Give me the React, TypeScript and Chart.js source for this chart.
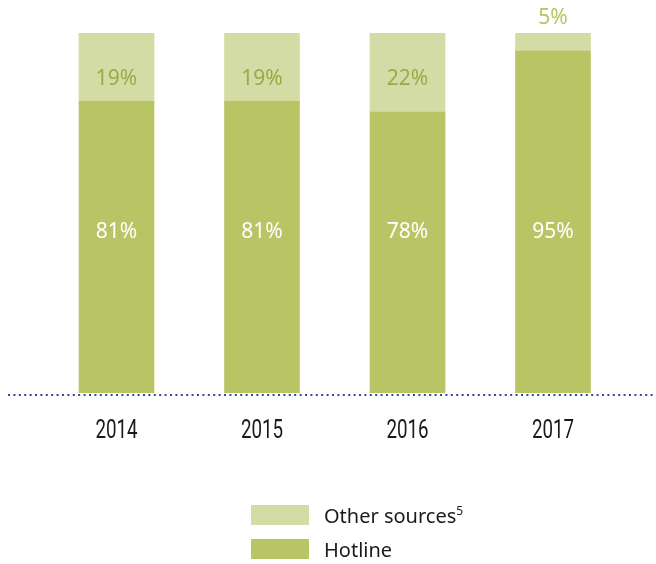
import React, { useEffect, useRef } from "react";
import { Chart, registerables } from "chart.js";

Chart.register(...registerables);

const categories = ["2014", "2015", "2016", "2017"];
const hotline = [81, 81, 78, 95];
const otherSources = [19, 19, 22, 5];
const seriesNames = ["Other sources", "Hotline"];

const DARK = "#b9c565";
const LIGHT = "#d4dca6";
const LABEL_DARK = "#9aab45";
const LABEL_LIGHT = "#b5c561";
const AXIS_DOT = "#36469a";

const labelPlugin = {
  id: "valueLabels",
  afterDatasetsDraw(chart: any) {
    const ctx = chart.ctx;
    const y = chart.scales.y;
    ctx.save();
    ctx.font = '21px "Noto Sans", "Open Sans", sans-serif';
    ctx.textAlign = "center";
    ctx.textBaseline = "middle";
    chart.data.datasets.forEach((ds: any, di: number) => {
      const meta = chart.getDatasetMeta(di);
      meta.data.forEach((bar: any, i: number) => {
        const v = ds.data[i];
        let py;
        if (ds.label === "Hotline") {
          ctx.fillStyle = "#ffffff";
          py = y.getPixelForValue(44.7);
        } else if (v < 10) {
          ctx.fillStyle = LABEL_LIGHT;
          py = bar.y - 15;
        } else {
          ctx.fillStyle = LABEL_DARK;
          py = y.getPixelForValue(87.2);
        }
        ctx.fillText(v + "%", bar.x, py);
      });
    });
    ctx.restore();
  },
  afterDraw(chart: any) {
    const ctx = chart.ctx;
    const yb = chart.chartArea.bottom + 2;
    ctx.save();
    ctx.strokeStyle = AXIS_DOT;
    ctx.lineWidth = 2;
    ctx.setLineDash([2, 3.4]);
    ctx.beginPath();
    ctx.moveTo(8, yb);
    ctx.lineTo(chart.width, yb);
    ctx.stroke();
    ctx.restore();

    // condensed category labels
    const xs = chart.scales.x;
    ctx.save();
    ctx.font = '400 25px Roboto, "DejaVu Sans", sans-serif';
    ctx.fillStyle = "#1a1a1a";
    ctx.textAlign = "center";
    ctx.textBaseline = "alphabetic";
    const labels = chart.data.labels as string[];
    labels.forEach((lab: string, i: number) => {
      const px = xs.getPixelForTick(i);
      ctx.save();
      ctx.translate(px, chart.chartArea.bottom + 45);
      ctx.scale(0.75, 1);
      ctx.fillText(lab, 0, 0);
      ctx.restore();
    });
    ctx.restore();
  },
};

export default function App() {
  const ref = useRef<HTMLCanvasElement | null>(null);
  useEffect(() => {
    document.body.style.margin = "0";
    if (!ref.current) return;
    const chart = new Chart(ref.current, {
      type: "bar",
      data: {
        labels: categories,
        datasets: [
          {
            label: seriesNames[1],
            data: hotline,
            backgroundColor: DARK,
            barThickness: 75,
            stack: "s",
          },
          {
            label: seriesNames[0],
            data: otherSources,
            backgroundColor: LIGHT,
            barThickness: 75,
            stack: "s",
          },
        ],
      },
      options: {
        animation: false,
        responsive: true,
        maintainAspectRatio: false,
        layout: { padding: { top: 33, left: 43.75, right: 30.25, bottom: 0 } },
        plugins: { legend: { display: false }, tooltip: { enabled: false } },
        scales: {
          x: {
            stacked: true,
            grid: { display: false, drawTicks: false },
            border: { display: false },
            ticks: { display: false },
            afterFit(scale: any) {
              scale.height = 171;
            },
          },
          y: {
            stacked: true,
            display: false,
            min: 0,
            max: 100,
          },
        },
      },
      plugins: [labelPlugin],
    });
    return () => chart.destroy();
  }, []);

  const legendItems = [
    { name: seriesNames[0], sup: "5", color: LIGHT, top: 505 },
    { name: seriesNames[1], sup: "", color: DARK, top: 539 },
  ];

  return (
    <div style={{ position: "relative", width: 656, height: 564, overflow: "hidden" }}>
      <canvas ref={ref} />
      {legendItems.map((it) => (
        <div
          key={it.name}
          style={{
            position: "absolute",
            left: 251,
            top: it.top,
            height: 20,
            display: "flex",
            alignItems: "center",
            fontFamily: '"Noto Sans", sans-serif',
            fontSize: 20,
            color: "#1a1a1a",
            whiteSpace: "nowrap",
          }}
        >
          <span style={{ display: "inline-block", width: 58, height: 20, background: it.color, marginRight: 15 }} />
          <span>
            {it.name}
            {it.sup ? <sup style={{ fontSize: 12, verticalAlign: 8 }}>{it.sup}</sup> : null}
          </span>
        </div>
      ))}
    </div>
  );
}
